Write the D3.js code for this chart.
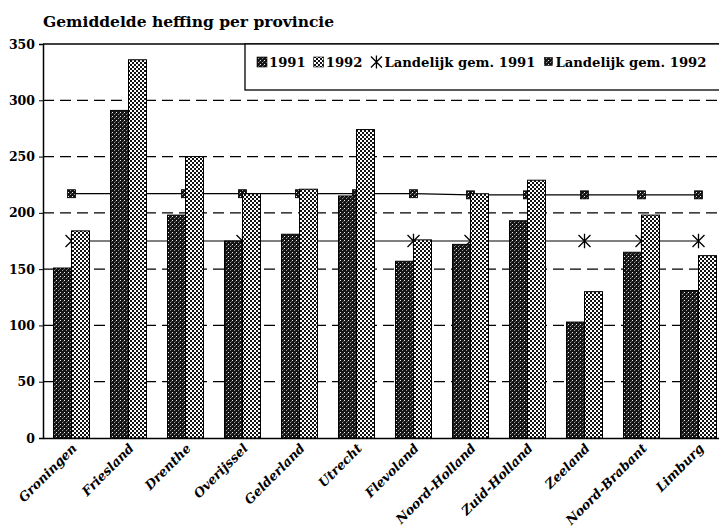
<!DOCTYPE html>
<html><head><meta charset="utf-8">
<script src="https://cdn.jsdelivr.net/npm/d3@7"></script>
<style>
html,body{margin:0;padding:0;background:#fff;overflow:hidden;}
text{font-family:"DejaVu Serif","Liberation Serif",serif;font-weight:bold;fill:#000;}
</style></head>
<body>
<svg id="chart" width="719" height="527"></svg>
<script>
const categories = ["Groningen","Friesland","Drenthe","Overijssel","Gelderland","Utrecht","Flevoland","Noord-Holland","Zuid-Holland","Zeeland","Noord-Brabant","Limburg"];
const values1991 = [151,291,198,175,181,215,157,172,193,103,165,131];
const values1992 = [184,336,250,217,221,274,176,217,229,130,198,162];
const landelijk1991 = [175,175,175,175,175,175,175,175,175,175,175,175];
const landelijk1992 = [217,217,217,217,217,217,217,216,216,216,216,216];
const yTicks = [0,50,100,150,200,250,300,350];
const gridTicks = [50,100,150,200,250,300];
const title = "Gemiddelde heffing per provincie";
const legendLabels = ["1991","1992","Landelijk gem. 1991","Landelijk gem. 1992"];

(function(){
const svg = d3.select("#chart");
const defs = svg.append("defs");
const p1 = defs.append("pattern").attr("id","p1991").attr("patternUnits","userSpaceOnUse").attr("width",4).attr("height",4);
p1.append("rect").attr("width",4).attr("height",4).attr("fill","#151515");
p1.append("rect").attr("x",0).attr("y",0).attr("width",1).attr("height",1).attr("fill","#eee");
p1.append("rect").attr("x",2).attr("y",2).attr("width",1).attr("height",1).attr("fill","#999");
p1.append("rect").attr("x",3).attr("y",1).attr("width",1).attr("height",1).attr("fill","#555");
const p2 = defs.append("pattern").attr("id","p1992").attr("patternUnits","userSpaceOnUse").attr("width",4).attr("height",4);
p2.append("rect").attr("width",4).attr("height",4).attr("fill","#111");
p2.append("rect").attr("x",0).attr("y",0).attr("width",2).attr("height",2).attr("fill","#fff");
p2.append("rect").attr("x",2).attr("y",2).attr("width",2).attr("height",2).attr("fill","#fff");

const mLeft = 43, mTop = 44, mBottom = 438, rightEdge = 718;
const x = d3.scaleBand().domain(categories).range([mLeft, mLeft + 57*12]).paddingInner(0.37).paddingOuter(0.185);
const y = d3.scaleLinear().domain([0,350]).range([mBottom, mTop]);
const bw = 18;
const cx = c => x(c) + x.bandwidth()/2;

svg.append("text").attr("x",43).attr("y",27).style("font-size","15.5px").text(title);

svg.append("g").selectAll("line").data(gridTicks).join("line")
  .attr("x1",mLeft).attr("x2",rightEdge+2).attr("y1",d=>y(d)).attr("y2",d=>y(d))
  .attr("stroke","#000").attr("stroke-width",1.3).attr("stroke-dasharray","11,6");

const yAxis = d3.axisLeft(y).tickValues(yTicks).tickSize(4).tickPadding(4);
const gy = svg.append("g").attr("transform",`translate(${mLeft},0)`).call(yAxis);
gy.select(".domain").attr("stroke","#000").attr("stroke-width",1.5);
gy.selectAll(".tick line").attr("stroke","#000");
gy.selectAll(".tick text").style("font-size","12.5px").style("font-family","DejaVu Serif").style("font-weight","bold");

svg.append("line").attr("x1",mLeft).attr("x2",rightEdge+2).attr("y1",mTop).attr("y2",mTop).attr("stroke","#000").attr("stroke-width",1.3);

const xAxis = d3.axisBottom(x).tickSize(0).tickFormat("");
const gx = svg.append("g").attr("transform",`translate(0,${mBottom})`).call(xAxis);
gx.select(".domain").attr("stroke","#000").attr("stroke-width",1.5);

const line = d3.line().x((d,i)=>cx(categories[i])).y(d=>y(d));
svg.append("path").datum(landelijk1992).attr("d",line).attr("fill","none").attr("stroke","#000").attr("stroke-width",1.2);
svg.append("path").datum(landelijk1991).attr("d",line).attr("fill","none").attr("stroke","#000").attr("stroke-width",1.2);
svg.append("g").selectAll("rect").data(landelijk1992).join("rect")
  .attr("x",(d,i)=>cx(categories[i])-4).attr("y",d=>y(d)-4).attr("width",8).attr("height",8)
  .attr("fill","url(#p1991)").attr("stroke","#000").attr("stroke-width",0.8);
function asterisk(g, px, py, r){
  g.append("path").attr("d",`M${px-r},${py-r}L${px+r},${py+r}M${px-r},${py+r}L${px+r},${py-r}M${px},${py-r*1.2}L${px},${py+r*1.2}`)
   .attr("stroke","#000").attr("stroke-width",1.3).attr("fill","none");
}
const astG = svg.append("g");
landelijk1991.forEach((d,i)=>asterisk(astG, cx(categories[i]), y(d), 6));

const barsG = svg.append("g");
barsG.selectAll(".b91").data(values1991).join("rect").attr("class","b91")
  .attr("x",(d,i)=>cx(categories[i])-bw).attr("y",d=>y(d)).attr("width",bw).attr("height",d=>mBottom-y(d))
  .attr("fill","url(#p1991)").attr("stroke","#000").attr("stroke-width",1);
barsG.selectAll(".b92").data(values1992).join("rect").attr("class","b92")
  .attr("x",(d,i)=>cx(categories[i])).attr("y",d=>y(d)).attr("width",bw).attr("height",d=>mBottom-y(d))
  .attr("fill","url(#p1992)").attr("stroke","#000").attr("stroke-width",1);

svg.append("g").selectAll("text").data(categories).join("text")
  .attr("transform",d=>`translate(${cx(d)+3},${mBottom+8}) rotate(-45)`)
  .attr("text-anchor","end").attr("dy","0.35em")
  .style("font-size","12.8px").style("font-style","italic").text(d=>d);

const lg = svg.append("g");
lg.append("rect").attr("x",245).attr("y",mTop).attr("width",rightEdge-245+5).attr("height",90-mTop)
  .attr("fill","#fff").attr("stroke","#000").attr("stroke-width",1.3);
let lx = 257; const ly = 67;
const swatchFills = ["url(#p1991)","url(#p1992)"];
legendLabels.forEach((lab,i)=>{
  if(i<2){
    lg.append("rect").attr("x",lx).attr("y",ly-10).attr("width",10).attr("height",10).attr("fill",swatchFills[i]).attr("stroke","#000").attr("stroke-width",0.6);
    lx += 12;
  } else if(i===2){
    asterisk(lg, lx+6, ly-5, 5.5); lx += 14;
  } else {
    lg.append("rect").attr("x",lx+1).attr("y",ly-9.5).attr("width",8).attr("height",8).attr("fill","url(#p1991)").attr("stroke","#000").attr("stroke-width",0.6);
    lx += 12;
  }
  const t = lg.append("text").attr("x",lx).attr("y",ly).style("font-size","13.2px").text(lab);
  lx += t.node().getComputedTextLength() + 8;
});
})();
</script>
</body></html>
